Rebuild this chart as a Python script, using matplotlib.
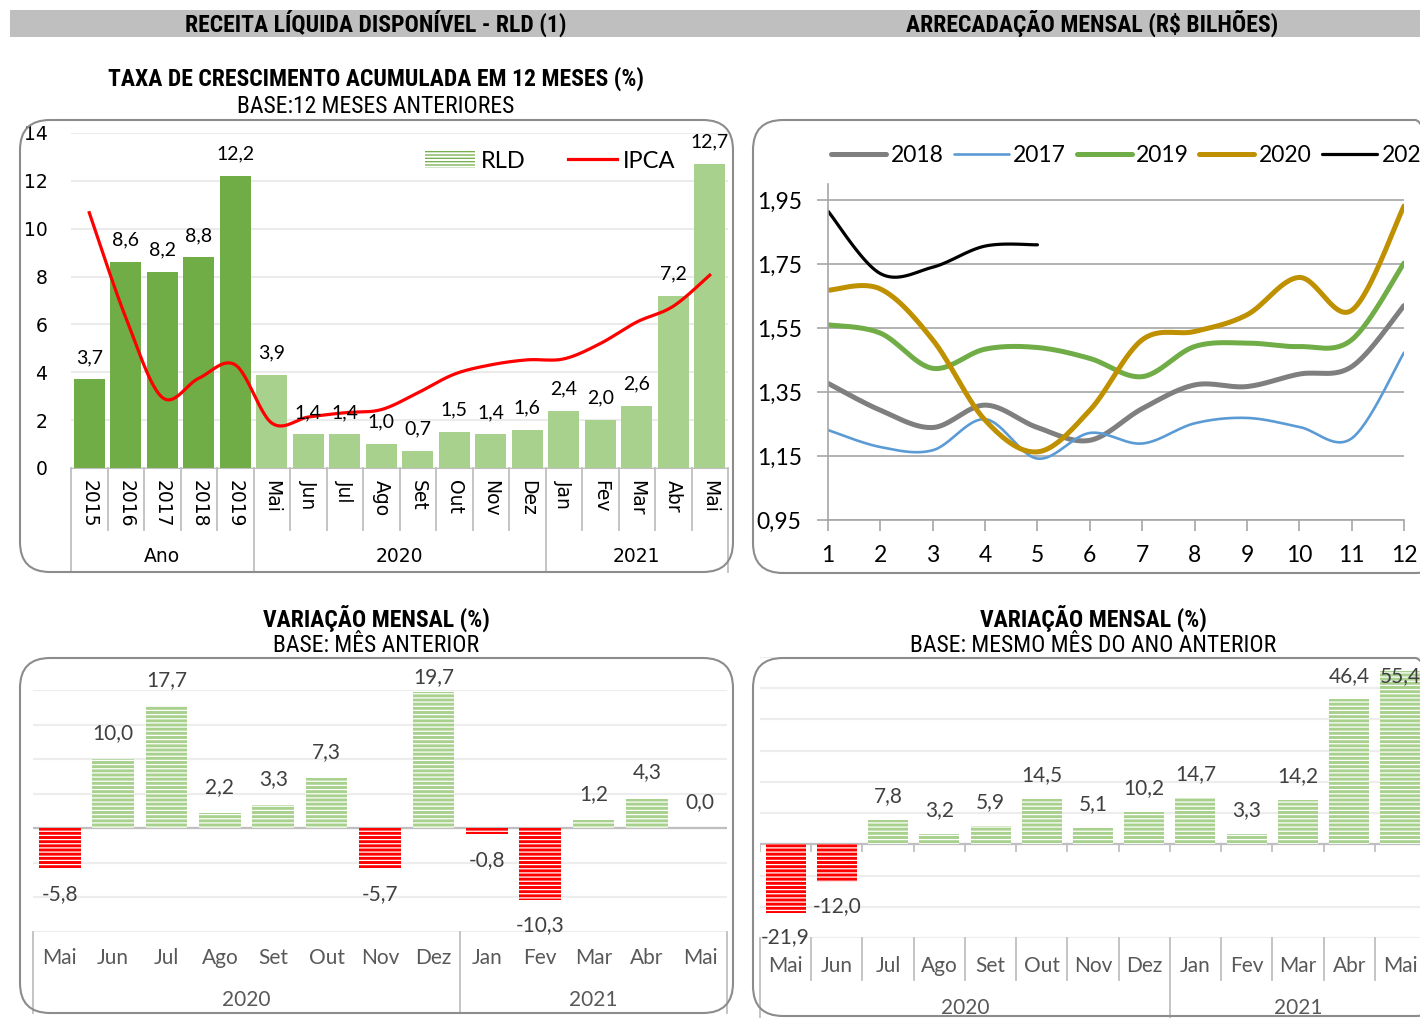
import numpy as np
import matplotlib
matplotlib.use('Agg')
import matplotlib.pyplot as plt
from matplotlib import font_manager
from matplotlib.patches import FancyBboxPatch, Rectangle, Patch
from matplotlib.lines import Line2D
from matplotlib.transforms import IdentityTransform

# ---- data ----
rld_cats = ['2015', '2016', '2017', '2018', '2019', 'Mai', 'Jun', 'Jul', 'Ago', 'Set',
            'Out', 'Nov', 'Dez', 'Jan', 'Fev', 'Mar', 'Abr', 'Mai']
rld_groups = [('Ano', 0, 5), ('2020', 5, 13), ('2021', 13, 18)]
rld_vals = [3.7, 8.6, 8.2, 8.8, 12.2, 3.9, 1.4, 1.4, 1.0, 0.7, 1.5, 1.4, 1.6, 2.4, 2.0, 2.6, 7.2, 12.7]
ipca_vals = [10.67, 6.29, 2.95, 3.75, 4.31, 1.88, 2.13, 2.31, 2.44, 3.14, 3.92, 4.31, 4.52,
             4.56, 5.20, 6.10, 6.76, 8.06]

months = list(range(1, 13))
arr_2018 = [1.377, 1.293, 1.239, 1.309, 1.239, 1.199, 1.298, 1.372, 1.367, 1.406, 1.429, 1.620]
arr_2017 = [1.231, 1.178, 1.168, 1.265, 1.142, 1.222, 1.189, 1.252, 1.269, 1.241, 1.205, 1.473]
arr_2019 = [1.560, 1.534, 1.424, 1.484, 1.489, 1.455, 1.398, 1.492, 1.503, 1.492, 1.513, 1.753]
arr_2020 = [1.668, 1.672, 1.513, 1.262, 1.163, 1.293, 1.513, 1.539, 1.591, 1.708, 1.605, 1.931]
arr_2021 = [1.915, 1.720, 1.740, 1.806, 1.810]
arr_ticks = [0.95, 1.15, 1.35, 1.55, 1.75, 1.95]

mes_cats = ['Mai', 'Jun', 'Jul', 'Ago', 'Set', 'Out', 'Nov', 'Dez', 'Jan', 'Fev', 'Mar', 'Abr', 'Mai']
mes_groups = [('2020', 0, 8), ('2021', 8, 13)]
var_mes_ant = [-5.8, 10.0, 17.7, 2.2, 3.3, 7.3, -5.7, 19.7, -0.8, -10.3, 1.2, 4.3, 0.0]
var_ano_ant = [-21.9, -12.0, 7.8, 3.2, 5.9, 14.5, 5.1, 10.2, 14.7, 3.3, 14.2, 46.4, 55.4]

# ---- styling ----
W, H = 1420, 1018
PT = 0.72  # points per pixel at 100 dpi
LATO = 'Lato'
DARK_GREEN = '#70AD47'
LIGHT_GREEN = '#A9D18E'
GRAY_TXT = '#595959'
SEP = '#BFBFBF'
plt.rcParams['hatch.linewidth'] = 0.9


def pick_narrow():
    # titles in the reference use a condensed sans; take the closest one installed
    fl = font_manager.fontManager.ttflist
    for nm in ['Liberation Sans Narrow', 'Roboto Condensed', 'Open Sans Condensed']:
        if any(f.name == nm for f in fl):
            return {'family': nm}
    for nm in ['DejaVu Sans', 'Noto Sans']:
        if any(f.name == nm and 'condensed' in str(f.stretch) for f in fl):
            return {'family': nm, 'stretch': 'condensed'}
    return {'family': 'Liberation Sans'}


NARROW = pick_narrow()


def fmt(v):
    return ('%.1f' % v).replace('.', ',')


def smooth(x, y, n=30):
    # excel-like smoothed line (bezier through the points)
    p = np.column_stack([x, y]).astype(float)
    p = np.vstack([p[0], p, p[-1]])
    t = np.linspace(0, 1, n)[:, None]
    out = []
    for i in range(1, len(p) - 2):
        p0, p1, p2, p3 = p[i - 1], p[i], p[i + 1], p[i + 2]
        c1 = p1 + (p2 - p0) / 6
        c2 = p2 - (p3 - p1) / 6
        seg = (1 - t) ** 3 * p1 + 3 * (1 - t) ** 2 * t * c1 + 3 * (1 - t) * t ** 2 * c2 + t ** 3 * p2
        out.append(seg if i == 1 else seg[1:])
    out = np.vstack(out)
    return out[:, 0], out[:, 1]


fig = plt.figure(figsize=(W / 100, H / 100), dpi=100)
renderer = fig.canvas.get_renderer()


def add_ax(l, t, r, b):
    ax = fig.add_axes([l / W, 1 - b / H, (r - l) / W, (b - t) / H])
    ax.set_facecolor('none')
    return ax


def box(l, t, r, b, rad=30):
    p = FancyBboxPatch((l, H - b), r - l, b - t, boxstyle='round,pad=0,rounding_size=%d' % rad,
                       transform=IdentityTransform(), facecolor='none', edgecolor='#8C8C8C', lw=1.5, zorder=0)
    fig.patches.append(p)


def ftext(x, y, s, **kw):
    return fig.text(x / W, 1 - y / H, s, ha='center', va='center', **kw)


def title(x, y, s, width_px, bold):
    # size the title so that it spans the same width as in the reference
    t = ftext(x, y, s, weight='bold' if bold else 'normal', fontsize=15, **NARROW)
    w = t.get_window_extent(renderer).width
    t.set_fontsize(min(17, 15 * width_px / w))
    return t


def separators(ax, ax_h, bounds, short_px, long_bounds, long_px):
    for k in bounds:
        length = long_px if k in long_bounds else short_px
        ax.plot([k - 0.5, k - 0.5], [0, -length / ax_h], transform=ax.get_xaxis_transform(),
                color=SEP, lw=1.3, clip_on=False)


# header band
fig.patches.append(Rectangle((10, H - 37), 1410, 27, transform=IdentityTransform(),
                             facecolor='#BFBFBF', edgecolor='none', zorder=0))
title(376, 23, 'RECEITA LÍQUIDA DISPONÍVEL - RLD (1)', 385, True)
title(1092, 23, 'ARRECADAÇÃO MENSAL (R\\$ BILHÕES)', 381, True)

# ---------- top left ----------
box(20, 120, 733, 572)
title(376, 79, 'TAXA DE CRESCIMENTO ACUMULADA EM 12 MESES (%)', 543, True)
title(376, 106, 'BASE:12 MESES ANTERIORES', 287, False)

ax1 = add_ax(71, 133, 728, 468)
h1 = 468 - 133
x1 = np.arange(len(rld_cats))
cols = [DARK_GREEN] * 5 + [LIGHT_GREEN] * (len(rld_cats) - 5)
ax1.bar(x1, rld_vals, width=0.85, color=cols, zorder=2)
xs, ys = smooth(x1, ipca_vals)
ax1.plot(xs, ys, color='#FF0000', lw=2.3, zorder=3)
for i, v in enumerate(rld_vals):
    ax1.annotate(fmt(v), xy=(i, v), xytext=(0, 22 * PT), textcoords='offset points',
                 ha='center', va='center', family=LATO, fontsize=14, zorder=4)
ax1.set_xlim(-0.5, len(rld_cats) - 0.5)
ax1.set_ylim(0, 14)
ax1.set_yticks(range(0, 15, 2))
ax1.yaxis.grid(True, color='#EBEBEB', lw=1.5)
ax1.set_axisbelow(True)
ax1.tick_params(axis='y', length=0, pad=17, labelsize=13.5)
ax1.set_xticks([])
for s in ['top', 'right', 'left']:
    ax1.spines[s].set_visible(False)
ax1.spines['bottom'].set_color(SEP)
for i, c in enumerate(rld_cats):
    ax1.annotate(c, xy=(i, 0), xycoords=('data', 'axes fraction'), xytext=(0, -12 * PT),
                 textcoords='offset points', rotation=-90, ha='center', va='top', fontsize=13.5)
separators(ax1, h1, range(len(rld_cats) + 1), 62, [0, 5, 13, 18], 104)
for g, a, b in rld_groups:
    ax1.annotate(g, xy=((a + b - 1) / 2, 0), xycoords=('data', 'axes fraction'), xytext=(0, -89 * PT),
                 textcoords='offset points', ha='center', va='center', fontsize=13.5)
hands = [Patch(facecolor='white', edgecolor=DARK_GREEN, hatch='-----', lw=0, label='RLD'),
         Line2D([], [], color='#FF0000', lw=2.3, label='IPCA')]
ax1.legend(handles=hands, ncol=2, loc='center left', bbox_to_anchor=((425 - 71) / 657, (468 - 161) / h1),
           frameon=False, prop={'family': LATO, 'size': 17}, handlelength=2.1, handletextpad=0.25,
           columnspacing=1.8, borderpad=0, borderaxespad=0)

# ---------- top right ----------
box(753, 120, 1445, 573)
ax2 = add_ax(828, 184, 1404, 520)
series = [('2018', arr_2018, '#7F7F7F', 3.6), ('2017', arr_2017, '#5B9BD5', 1.9),
          ('2019', arr_2019, DARK_GREEN, 3.6), ('2020', arr_2020, '#BF9000', 3.6),
          ('2021', arr_2021, '#000000', 2.3)]
for lab, vals, c, lw in series:
    xs, ys = smooth(months[:len(vals)], vals)
    ax2.plot(xs, ys, color=c, lw=lw, label=lab, solid_capstyle='round')
ax2.set_xlim(1, 12)
ax2.set_ylim(0.95, 2.0)
ax2.set_xticks(months)
ax2.set_yticks(arr_ticks)
ax2.set_yticklabels([('%.2f' % t).replace('.', ',') for t in arr_ticks])
ax2.yaxis.grid(True, color='#A6A6A6', lw=1.2)
ax2.set_axisbelow(True)
for s in ['top', 'right']:
    ax2.spines[s].set_visible(False)
for s in ['left', 'bottom']:
    ax2.spines[s].set_color('#A6A6A6')
    ax2.spines[s].set_linewidth(1.2)
ax2.tick_params(axis='both', direction='out', length=8, color='#A6A6A6', width=1.2, labelsize=16.5)
ax2.tick_params(axis='y', pad=11)
ax2.tick_params(axis='x', pad=10)
for t in ax2.get_xticklabels() + ax2.get_yticklabels():
    t.set_family(LATO)
ax2.legend(loc='center left', bbox_to_anchor=((831 - 828) / 576, (520 - 156) / 336), ncol=5,
           frameon=False, prop={'family': LATO, 'size': 16.5}, handlelength=2.4, handletextpad=0.2,
           columnspacing=0.45, borderpad=0, borderaxespad=0)


# ---------- bottom panels ----------
def var_panel(ax, vals, ylo, yhi, step, ax_h, off_px, lab_cap, cat_px, grp_px, every_sep, grp_len,
              zero_ticks):
    ppu = ax_h / (yhi - ylo)
    x = np.arange(len(vals))
    cols = ['#FF0000' if v < 0 else LIGHT_GREEN for v in vals]
    ax.bar(x, vals, width=0.78, color=cols, edgecolor='white', lw=0, hatch='----', zorder=2)
    for i, v in enumerate(vals):
        y = v + off_px / ppu if v >= 0 else v - off_px / ppu
        y = min(y, lab_cap)  # labels stay inside the chart box, as in the reference
        ax.text(i, y, fmt(v), ha='center', va='center', family=LATO, fontsize=15, color='#404040')
    ax.set_xlim(-0.5, len(vals) - 0.5)
    ax.set_ylim(ylo, yhi)
    ax.set_yticks(np.arange(ylo, yhi + 1, step))
    ax.yaxis.grid(True, color='#EDEDED', lw=1.6)
    ax.set_axisbelow(True)
    ax.axhline(0, color=SEP, lw=1.6, zorder=1)
    ax.set_xticks([])
    ax.tick_params(axis='y', length=0, labelleft=False)
    for s in ax.spines.values():
        s.set_visible(False)
    if zero_ticks:
        for k in range(len(vals) + 1):
            ax.plot([k - 0.5, k - 0.5], [0, -7 / ppu], color=SEP, lw=1.3, zorder=1)
    for i, c in enumerate(mes_cats):
        ax.annotate(c, xy=(i, 0), xycoords=('data', 'axes fraction'), xytext=(0, -cat_px * PT),
                    textcoords='offset points', ha='center', va='center', family=LATO, fontsize=15,
                    color=GRAY_TXT)
    for g, a, b in mes_groups:
        ax.annotate(g, xy=((a + b - 1) / 2, 0), xycoords=('data', 'axes fraction'), xytext=(0, -grp_px * PT),
                    textcoords='offset points', ha='center', va='center', family=LATO, fontsize=15,
                    color=GRAY_TXT)
    bounds = range(len(vals) + 1) if every_sep else [0, 8, 13]
    separators(ax, ax_h, bounds, 42, [0, 8, 13], grp_len)


box(20, 658, 733, 1013)
title(376, 618, 'VARIAÇÃO MENSAL (%)', 229, True)
title(376, 645, 'BASE: MÊS ANTERIOR', 212, False)
ax3 = add_ax(33, 690, 727, 932)
var_panel(ax3, var_mes_ant, -15, 20, 5, 242, 26, 21.8, 26, 68, False, 81, False)

box(753, 658, 1445, 1016)
title(1093, 618, 'VARIAÇÃO MENSAL (%)', 229, True)
title(1093, 645, 'BASE: MESMO MÊS DO ANO ANTERIOR', 376, False)
ax4 = add_ax(760, 657, 1426, 938)
var_panel(ax4, var_ano_ant, -30, 60, 10, 281, 24, 54.0, 28, 70, True, 90, True)

fig.savefig('out.png', dpi=100)
